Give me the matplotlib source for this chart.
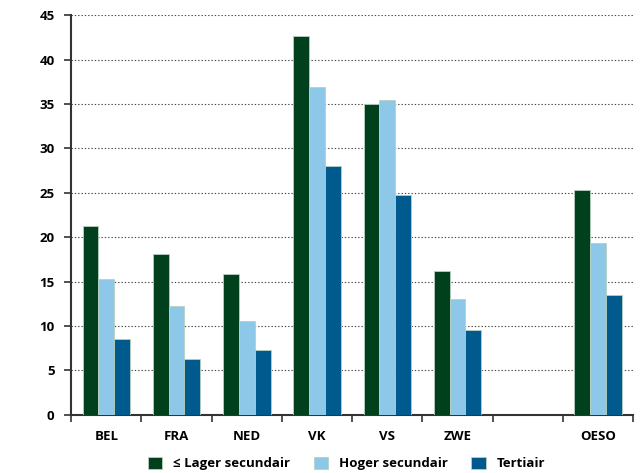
import matplotlib.pyplot as plt
import numpy as np

plt.rcParams['font.family'] = ['Open Sans', 'DejaVu Sans']

landen = ['BEL', 'FRA', 'NED', 'VK', 'VS', 'ZWE', '', 'OESO']
lager = [21.3, 18.1, 15.8, 42.7, 35.0, 16.2, np.nan, 25.3]
hoger = [15.3, 12.2, 10.6, 36.9, 35.4, 13.0, np.nan, 19.3]
tertiair = [8.5, 6.3, 7.3, 28.0, 24.7, 9.6, np.nan, 13.5]

reeksen = ['≤ Lager secundair', 'Hoger secundair', 'Tertiair']
kleuren = ['#00401c', '#8ec8e8', '#005a8e']

fig = plt.figure(figsize=(6.42, 4.73), dpi=100)
ax = fig.add_axes([0.111, 0.123, 0.875, 0.845])

x = np.arange(len(landen))
w = 0.225
for i, (vals, kl, naam) in enumerate(zip([lager, hoger, tertiair], kleuren, reeksen)):
    ax.bar(x + (i - 1) * w, vals, w, color=kl, edgecolor='#b8d0c0', linewidth=0.6,
           label=naam, zorder=3)

ax.set_xlim(-0.5, len(landen) - 0.5)
ax.set_ylim(0, 45)
ax.set_yticks(np.arange(0, 46, 5))
ax.yaxis.grid(True, linestyle=(0, (1.2, 1.8)), color='#444444', linewidth=0.8, zorder=0)

ax.set_xticks(x)
ax.set_xticklabels(landen, fontweight='bold', fontsize=9.5)
ax.set_xticks(np.arange(-0.5, len(landen)), minor=True)
ax.tick_params(axis='x', which='major', length=0, pad=11)
ax.tick_params(axis='x', which='minor', length=5, width=1.2, color='#333333')
ax.tick_params(axis='y', length=5, width=1.2, color='#333333', labelsize=9.5, pad=7)
for lab in ax.get_yticklabels():
    lab.set_fontweight('bold')

for s in ['top', 'right']:
    ax.spines[s].set_visible(False)
for s in ['left', 'bottom']:
    ax.spines[s].set_color('#333333')
    ax.spines[s].set_linewidth(1.5)

ax.legend(loc='upper center', bbox_to_anchor=(0.49, -0.075), ncol=3, frameon=False,
          handlelength=1.1, handleheight=1.1, columnspacing=1.8, handletextpad=0.8,
          prop={'weight': 'bold', 'size': 9.5})

fig.savefig('out.png', dpi=100)
